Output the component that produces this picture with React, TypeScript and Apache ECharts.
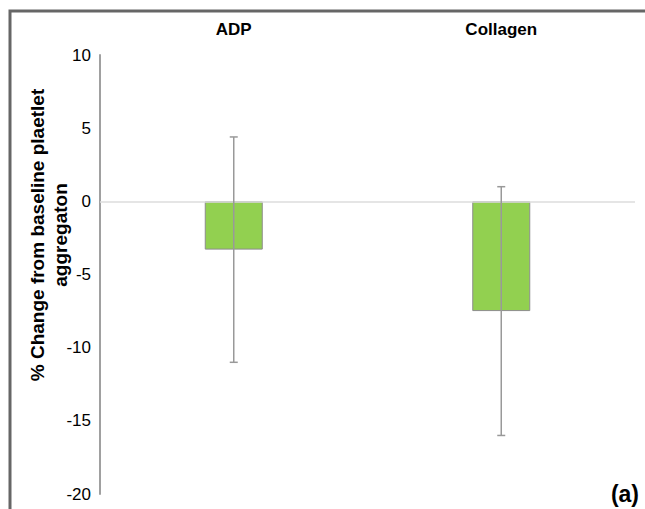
import React, { useEffect, useRef } from "react";
import * as echarts from "echarts";

const categories = ["ADP", "Collagen"];
const means = [-3.3, -7.5];
const errLow = [-11.0, -16.0];
const errHigh = [4.4, 1.0];
const yMin = -20;
const yMax = 10;
const yStep = 5;
const yTitleLines = ["% Change from baseline plaetlet", "aggregaton"];
const panelLabel = "(a)";

export default function App() {
  const ref = useRef<HTMLDivElement>(null);
  useEffect(() => {
    if (!ref.current) return;
    const chart = echarts.init(ref.current, null, { renderer: "svg" });
    const font = "Liberation Sans, Arial, sans-serif";
    chart.setOption({
      animation: false,
      backgroundColor: "#fff",
      grid: { left: 100, right: 10, top: 55, bottom: 15 },
      xAxis: {
        type: "category",
        data: categories,
        position: "top",
        axisLine: { show: false },
        axisTick: { show: false },
        axisLabel: {
          fontFamily: font,
          fontSize: 17,
          fontWeight: "bold",
          color: "#000",
          margin: 17,
        },
      },
      yAxis: {
        type: "value",
        min: yMin,
        max: yMax,
        interval: yStep,
        axisLine: { show: true, lineStyle: { color: "#a0a0a0", width: 2 } },
        axisTick: { show: false },
        splitLine: { show: false },
        axisLabel: { fontFamily: font, fontSize: 17, color: "#000", margin: 9 },
      },
      graphic: [
        {
          type: "polyline",
          shape: { points: [[10, 509], [10, 11], [645, 11]] },
          style: { stroke: "#666", lineWidth: 3, fill: "none" },
          z: 10,
        },
        {
          type: "text",
          x: 49,
          y: 235,
          rotation: Math.PI / 2,
          style: {
            text: yTitleLines.join("\n"),
            fontFamily: font,
            fontSize: 19,
            fontWeight: "bold",
            fill: "#000",
            align: "center",
            verticalAlign: "middle",
            lineHeight: 23,
          },
        },
        {
          type: "text",
          right: 6,
          bottom: 4,
          style: {
            text: panelLabel,
            fontFamily: font,
            fontSize: 23,
            fontWeight: "bold",
            fill: "#000",
          },
        },
      ],
      series: [
        {
          type: "bar",
          data: means,
          barWidth: 58,
          itemStyle: { color: "#92D050", borderColor: "#8c8c8c", borderWidth: 1 },
          markLine: {
            silent: true,
            symbol: "none",
            label: { show: false },
            lineStyle: { color: "#dcdcdc", width: 1.5, type: "solid" },
            data: [{ yAxis: 0 }],
          },
          z: 2,
        },
        {
          type: "custom",
          data: categories.map((_, i) => [i, errLow[i], errHigh[i]]),
          renderItem: (params: any, api: any) => {
            const idx = api.value(0);
            const lo = api.coord([idx, api.value(1)]);
            const hi = api.coord([idx, api.value(2)]);
            const hw = 4;
            const style = { stroke: "#999", lineWidth: 1.5 };
            return {
              type: "group",
              children: [
                { type: "line", shape: { x1: hi[0], y1: hi[1], x2: lo[0], y2: lo[1] }, style },
                { type: "line", shape: { x1: hi[0] - hw, y1: hi[1], x2: hi[0] + hw, y2: hi[1] }, style },
                { type: "line", shape: { x1: lo[0] - hw, y1: lo[1], x2: lo[0] + hw, y2: lo[1] }, style },
              ],
            };
          },
          z: 5,
        },
      ],
    });
    return () => chart.dispose();
  }, []);
  return (
    <div
      ref={ref}
      style={{ position: "fixed", left: 0, top: 0, width: 645, height: 509 }}
    />
  );
}
